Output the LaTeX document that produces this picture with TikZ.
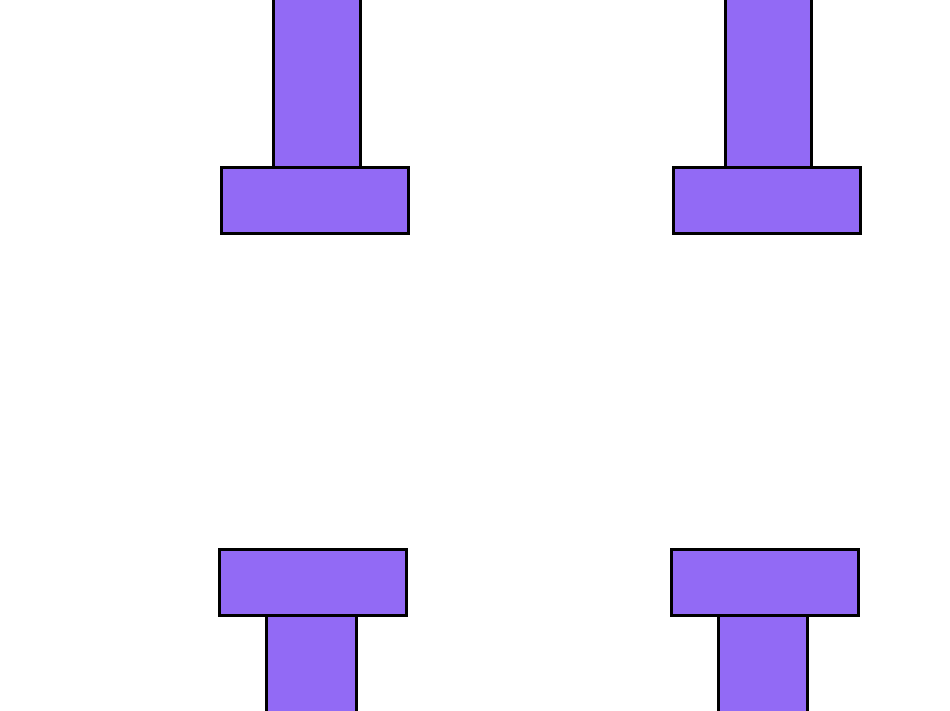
\documentclass[tikz,border=0pt]{standalone}
\definecolor{tviolet}{RGB}{146,106,245}
\tikzset{tpart/.style={fill=tviolet,draw=black,line width=3pt}}
\begin{document}
\begin{tikzpicture}[x=1pt,y=-1pt]
\useasboundingbox (0,0) rectangle (950,710);
\clip (0,0) rectangle (950,710);
\fill[white] (0,0) rectangle (950,710);
% top-left
\draw[tpart] (273,-10) rectangle (360,167);
\draw[tpart] (221,167) rectangle (408,233.5);
% top-right
\draw[tpart] (725,-10) rectangle (811.5,167);
\draw[tpart] (673,167) rectangle (860,233.5);
% bottom-left
\draw[tpart] (266,615) rectangle (356,720);
\draw[tpart] (219,549) rectangle (406,615);
% bottom-right
\draw[tpart] (718,615) rectangle (807.5,720);
\draw[tpart] (671,549) rectangle (858.5,615);
\end{tikzpicture}
\end{document}
